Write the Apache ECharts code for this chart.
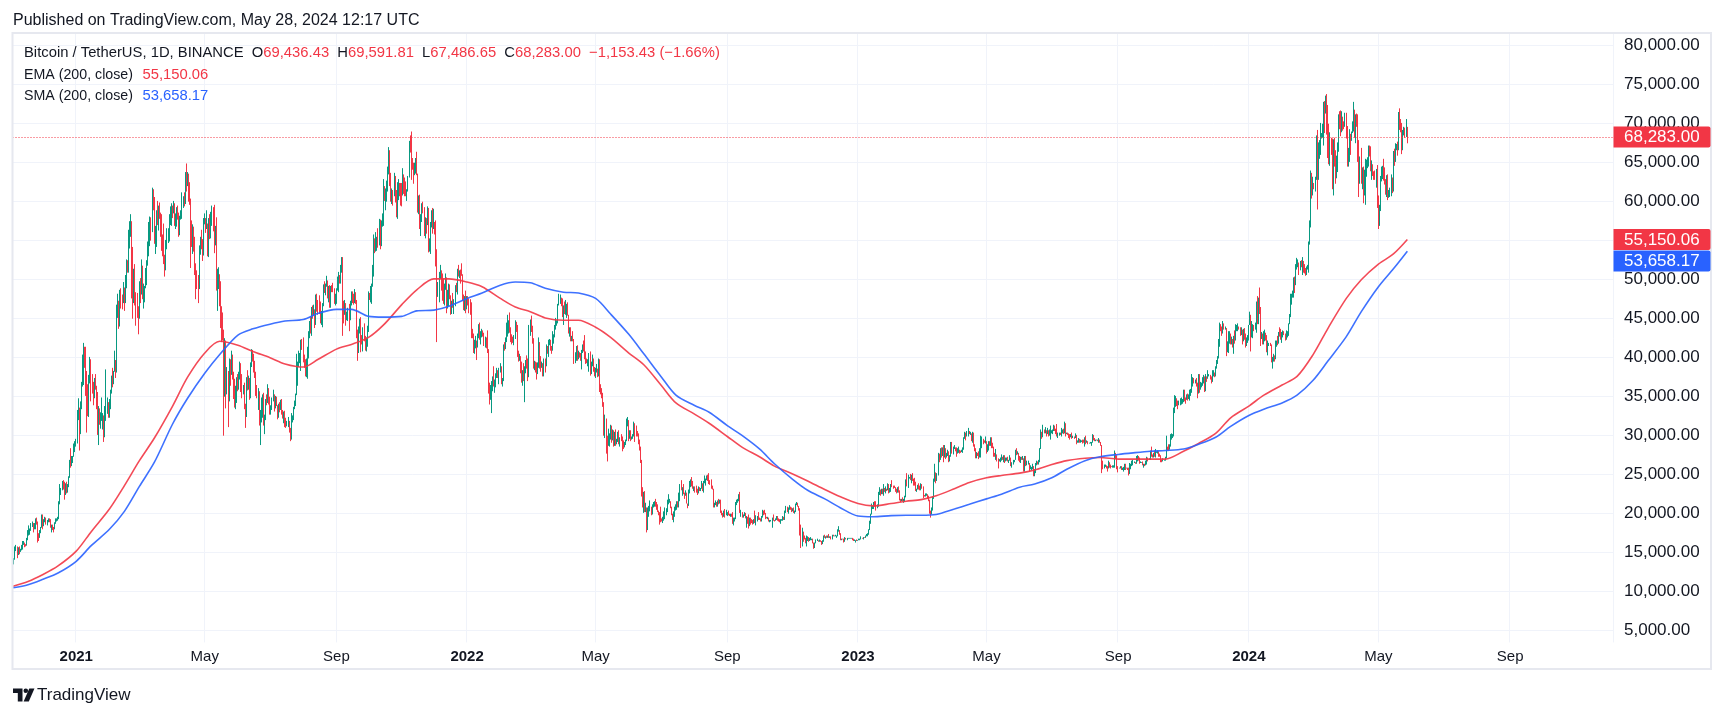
<!DOCTYPE html>
<html>
<head>
<meta charset="utf-8">
<script src="https://cdn.jsdelivr.net/npm/echarts@6/dist/echarts.min.js"></script>
<style>html,body{margin:0;padding:0;background:#fff;}#c{width:1713px;height:717px;}</style>
</head>
<body>
<div id="c"></div>
<script>
// ---------- DATA (prices in thousands of USDT), daily from 2020-11-03 to 2024-05-28 ----------
const startDate = '2020-11-03';
const axisDays = 1495;            // time scale runs on past the last candle
const prevCloseK = 13.55;         // close of 2020-11-02 (open of the first candle)
const closeK = [
/*2020-11*/14.0,14.2,15.6,15.6,14.8,15.5,15.3,15.3,15.7,16.3,16.3,16.1,16.0,16.7,17.7,17.8,17.8,18.7,18.7,18.4,18.4,19.2,18.7,17.2,17.1,17.7,18.2,19.7,
/*2020-12*/18.8,19.2,19.4,18.7,19.2,19.4,19.2,18.3,18.6,18.3,18.0,18.8,19.2,19.3,19.4,21.3,22.8,23.1,23.9,23.5,22.7,23.8,23.2,23.7,24.7,26.5,26.3,27.0,27.4,28.9,28.9,
/*2021-01*/29.4,32.2,33.0,32.0,34.0,36.8,39.4,40.6,40.2,38.2,35.5,34.0,37.4,39.2,36.8,36.0,35.8,36.6,36.0,35.5,30.8,33.0,32.1,32.3,32.3,32.5,30.4,33.5,34.3,34.3,33.1,
/*2021-02*/33.5,35.5,37.6,36.9,38.3,39.3,38.9,46.4,46.5,44.9,47.9,47.4,47.2,48.6,47.9,49.1,52.1,51.6,55.9,55.9,57.4,54.1,48.9,49.7,47.0,46.3,46.2,45.2,
/*2021-03*/49.6,48.4,50.5,48.4,48.8,48.9,51.2,52.4,54.9,55.9,57.8,57.2,61.2,59.0,55.6,56.9,58.9,57.6,58.3,58.1,57.4,54.5,54.3,52.3,51.3,55.0,55.8,55.8,57.6,58.8,58.8,
/*2021-04*/58.7,59.0,57.1,58.2,59.1,58.0,56.0,58.1,58.1,59.8,59.9,59.8,63.6,62.9,63.2,61.4,60.0,56.2,55.7,56.5,53.8,51.7,51.2,50.1,49.1,54.0,55.0,54.9,53.6,57.7,
/*2021-05*/57.8,56.6,57.2,53.2,57.5,56.4,57.4,58.9,58.3,55.8,56.7,49.2,49.7,49.9,46.8,46.4,43.6,42.9,37.0,40.8,37.3,37.5,34.7,38.8,38.3,39.2,38.4,35.7,34.6,35.7,37.3,
/*2021-06*/36.7,37.6,39.2,36.9,35.5,35.8,33.6,33.4,37.4,36.7,37.3,35.5,39.0,40.5,40.1,38.3,38.1,35.8,35.5,35.6,31.6,32.5,33.7,34.6,31.6,32.2,34.7,34.5,35.9,35.0,
/*2021-07*/33.5,33.8,34.7,35.3,33.7,34.2,33.9,32.9,33.8,33.5,34.3,33.1,32.7,32.8,31.9,31.4,31.5,31.8,30.8,29.8,32.1,32.3,33.6,34.3,35.4,37.3,39.5,40.0,40.0,42.2,41.5,
/*2021-08*/39.9,39.2,38.2,39.7,40.9,42.8,44.6,43.8,46.3,45.6,45.6,44.4,47.8,47.1,47.0,45.9,44.7,44.7,46.8,49.3,48.9,49.3,49.5,47.7,48.9,46.8,49.1,48.9,48.8,46.9,47.1,
/*2021-09*/48.8,49.3,50.0,49.9,51.8,52.7,46.9,46.1,46.4,44.8,45.2,46.1,44.9,47.1,48.1,47.8,47.3,48.3,47.3,43.0,40.7,43.6,44.9,42.8,42.7,43.2,42.2,41.0,41.5,43.8,
/*2021-10*/48.1,47.6,48.2,49.2,51.5,55.3,53.8,53.9,55.0,54.7,57.5,56.0,57.4,57.4,61.7,60.9,61.5,62.0,64.3,66.0,62.2,60.7,61.3,60.9,63.1,60.3,58.5,60.6,62.3,61.9,61.3,
/*2021-11*/61.0,63.2,62.9,61.4,61.0,61.5,63.3,67.6,66.9,64.9,64.8,64.2,64.4,65.5,63.6,60.1,60.4,56.9,58.1,59.7,58.7,56.3,57.6,57.2,58.9,53.7,54.8,57.3,57.8,57.0,
/*2021-12*/57.2,56.5,53.6,49.4,49.4,50.6,50.6,50.5,47.7,47.2,49.4,50.1,46.7,48.4,48.9,47.6,46.2,46.9,46.7,46.9,49.0,48.6,50.8,50.4,50.8,50.7,50.6,47.5,46.5,47.1,46.2,
/*2022-01*/47.7,47.3,46.4,45.8,43.4,43.1,41.5,41.7,41.9,41.8,42.7,43.9,42.6,43.1,43.2,43.1,42.2,42.4,41.7,40.7,36.4,35.1,36.3,36.7,36.9,36.8,37.2,37.7,38.2,37.9,38.5,
/*2022-02*/38.7,36.9,37.3,41.6,41.4,42.4,43.8,44.0,44.4,43.5,42.4,42.2,42.1,42.6,44.6,43.9,40.5,40.0,40.1,38.4,37.0,38.3,37.3,38.3,39.2,39.1,37.7,43.2,
/*2022-03*/44.4,44.0,42.5,39.1,39.4,38.4,38.0,38.7,41.9,39.4,38.7,38.8,37.8,39.7,39.3,41.1,40.9,41.8,42.2,41.3,41.0,42.4,42.9,44.0,44.3,44.5,46.8,47.1,47.4,47.1,45.5,
/*2022-04*/46.3,45.8,46.4,46.6,45.5,43.2,43.4,42.3,42.8,42.2,39.5,40.1,41.1,39.9,40.5,40.4,39.7,40.8,41.5,41.4,40.5,39.7,39.5,39.5,40.4,38.1,39.2,39.7,38.6,37.6,
/*2022-05*/38.5,38.5,37.7,39.7,36.5,36.0,35.5,34.0,30.1,31.0,29.1,28.9,29.3,30.1,31.3,29.9,30.4,28.7,30.3,29.2,29.4,30.3,29.1,29.6,29.5,29.2,28.6,29.0,29.4,31.7,31.8,
/*2022-06*/29.8,30.4,29.7,29.8,29.9,31.4,31.1,30.2,30.1,29.1,28.4,26.6,22.5,22.1,22.6,20.4,20.5,19.0,20.6,20.6,20.7,20.0,21.1,21.2,21.5,21.0,20.7,20.3,20.1,19.9,
/*2022-07*/19.3,19.2,19.3,20.2,20.2,20.5,21.6,21.6,21.6,20.8,19.9,19.3,20.2,20.6,20.8,21.2,20.8,22.4,23.4,23.2,23.2,22.7,22.5,22.6,21.3,21.2,22.9,23.8,23.8,23.6,23.3,
/*2022-08*/23.3,23.0,22.8,22.6,23.3,23.0,23.2,23.8,23.2,23.9,24.0,24.4,24.4,24.3,24.1,23.9,23.3,23.2,20.8,21.1,21.5,21.4,21.5,21.4,21.6,20.3,20.0,19.6,20.3,19.8,20.0,
/*2022-09*/20.1,20.0,19.8,20.0,19.8,18.8,19.3,19.3,21.4,21.6,21.8,22.4,20.2,20.2,19.7,19.8,20.1,19.4,19.5,18.9,18.5,19.4,19.3,18.9,18.8,19.2,19.1,19.4,19.6,19.4,
/*2022-10*/19.3,19.0,19.6,20.3,20.2,20.0,19.5,19.4,19.4,19.1,19.1,19.2,19.4,19.2,19.1,19.3,19.6,19.3,19.1,19.0,19.2,19.2,19.6,19.3,20.1,20.8,20.3,20.6,20.8,20.6,20.5,
/*2022-11*/20.5,20.2,20.2,21.1,21.3,20.9,20.6,18.5,15.9,17.6,17.1,16.8,16.3,16.6,16.9,16.7,16.7,16.7,16.7,16.3,15.8,16.2,16.6,16.6,16.5,16.5,16.4,16.2,16.4,17.2,
/*2022-12*/17.0,17.1,16.9,17.1,17.0,17.1,16.8,17.2,17.1,17.1,17.1,17.2,17.8,17.8,17.4,16.6,16.8,16.7,16.4,16.9,16.8,16.8,16.8,16.8,16.8,16.9,16.7,16.5,16.6,16.6,16.5,
/*2023-01*/16.6,16.7,16.7,16.9,16.8,17.0,16.9,17.1,17.2,17.4,17.9,18.8,19.9,20.9,20.9,21.2,21.1,20.7,21.1,22.7,22.8,22.7,22.9,22.6,23.1,23.0,23.1,23.0,23.7,22.8,23.1,
/*2023-02*/23.7,23.5,23.4,23.3,22.9,22.8,23.2,22.9,21.8,21.6,21.9,21.8,21.8,22.2,24.3,23.5,24.6,24.6,24.3,24.8,24.4,24.2,23.9,23.2,23.2,23.6,23.5,23.1,
/*2023-03*/23.6,23.5,22.4,22.3,22.4,22.4,22.2,21.7,20.4,20.2,20.6,22.1,24.2,24.7,24.3,25.0,27.4,26.9,28.0,27.8,28.2,27.3,28.3,27.5,27.5,28.0,27.1,27.3,28.4,28.0,28.5,
/*2023-04*/28.5,28.2,27.8,28.2,28.2,28.0,27.9,27.9,28.3,29.7,30.2,29.9,30.4,30.5,30.3,30.3,29.4,30.4,28.8,28.2,27.3,27.8,27.6,27.5,28.3,28.4,29.5,29.3,29.2,29.2,
/*2023-05*/28.1,28.7,29.0,28.8,29.5,28.9,28.5,27.7,27.6,27.6,27.0,26.8,26.8,26.9,27.2,27.0,27.4,26.8,26.9,27.1,26.7,26.8,27.2,26.3,26.5,26.7,26.9,28.1,27.7,27.7,27.2,
/*2023-06*/26.8,27.2,27.1,27.1,25.7,27.2,26.3,26.5,26.5,25.9,25.9,25.9,25.9,25.1,25.6,26.3,26.5,26.3,26.8,28.3,30.0,29.9,30.7,30.5,30.5,30.3,30.7,30.1,30.4,30.5,
/*2023-07*/30.6,30.6,31.2,30.8,30.5,29.9,30.3,30.3,30.2,30.4,30.6,30.4,31.5,30.3,30.3,30.2,30.1,29.9,29.9,29.8,29.9,29.8,30.1,29.2,29.2,29.4,29.2,29.3,29.4,29.3,29.2,
/*2023-08*/29.7,29.2,29.2,29.1,29.1,29.1,29.2,29.8,29.6,29.4,29.4,29.4,29.3,29.4,29.2,28.7,26.6,26.1,26.2,26.2,26.1,25.9,26.4,26.2,26.1,26.0,26.1,26.1,27.7,27.3,25.9,
/*2023-09*/25.8,25.9,26.0,25.8,25.8,25.8,26.2,25.9,25.9,25.8,25.1,25.8,26.2,26.5,26.6,26.6,26.5,26.8,27.2,27.1,26.6,26.6,26.6,26.3,26.3,26.2,26.4,27.0,26.9,27.0,
/*2023-10*/28.0,27.5,27.4,27.8,27.4,27.9,27.9,27.9,27.6,27.4,26.9,26.8,26.9,26.9,27.2,28.5,28.4,28.3,28.7,29.7,29.9,30.0,33.1,33.9,34.5,34.2,33.9,34.1,34.5,34.5,34.6,
/*2023-11*/35.4,34.9,34.7,35.1,35.0,35.0,35.4,35.6,36.7,37.3,37.1,37.1,36.5,35.5,37.9,36.2,36.6,36.6,37.4,37.5,35.8,37.4,37.3,37.7,37.8,37.5,37.2,37.8,37.9,37.7,
/*2023-12*/38.7,39.5,40.0,42.0,44.1,43.8,43.3,44.2,43.7,43.8,41.2,41.5,42.9,43.0,41.9,42.3,41.4,42.7,42.3,43.7,43.9,44.0,43.7,43.0,43.6,42.5,43.4,42.6,42.1,42.1,42.3,
/*2024-01*/44.2,45.0,42.8,44.2,44.2,43.9,43.9,46.9,46.1,46.6,46.3,42.8,42.8,41.7,42.5,43.1,42.7,41.3,41.6,41.7,41.6,39.5,39.8,40.0,39.9,41.8,42.1,42.0,43.3,42.9,42.6,
/*2024-02*/43.1,43.2,43.0,42.6,42.7,43.1,44.3,45.3,47.1,47.8,48.3,50.0,49.7,51.8,52.0,52.1,51.6,52.1,51.8,52.3,51.8,51.3,50.7,51.6,51.7,54.5,57.1,62.5,61.1,
/*2024-03*/62.4,62.0,63.1,68.2,63.7,66.1,66.9,68.3,68.5,69.0,72.1,71.5,73.1,71.4,69.5,65.3,68.4,67.6,62.0,67.8,65.5,63.8,64.0,67.2,70.0,69.9,69.5,70.8,69.9,69.6,71.3,
/*2024-04*/69.7,65.5,65.9,68.5,67.8,68.9,69.4,71.6,69.1,70.6,70.0,67.1,63.9,65.7,63.4,63.8,61.3,63.5,63.8,64.9,64.9,66.8,66.4,64.3,64.5,63.8,63.4,63.1,63.8,60.6,
/*2024-05*/58.3,59.1,62.9,63.9,64.0,63.2,62.3,61.2,63.1,60.8,60.8,61.5,62.9,61.6,66.2,65.2,67.0,67.0,66.9,71.4,70.1,69.2,67.9,68.5,69.3,68.5,69.43643,68.283
];
const highK = [
/*2020-11*/14.1,14.3,15.8,16.0,15.8,15.7,15.8,15.5,16.0,16.5,16.5,16.3,16.1,16.9,17.9,18.5,18.1,18.8,19.0,18.8,18.8,19.4,19.5,19.0,17.5,17.9,18.3,19.9,
/*2020-12*/19.9,19.3,19.6,19.5,19.2,19.4,19.4,19.3,18.6,18.6,18.3,18.9,19.4,19.4,19.6,21.6,23.8,23.3,24.2,24.3,24.1,23.9,24.1,23.8,24.8,26.9,28.4,27.4,27.4,29.0,29.3,
/*2021-01*/29.6,33.3,34.8,33.6,34.4,36.9,40.4,41.9,41.4,41.4,38.3,36.6,37.8,40.1,39.8,37.9,36.9,37.4,37.9,36.4,35.6,33.8,33.5,33.0,34.9,32.9,32.6,33.8,38.5,34.9,34.3,
/*2021-02*/34.7,35.9,37.7,38.7,38.3,40.9,39.7,46.8,48.2,47.3,48.7,48.9,48.1,49.7,49.0,50.6,52.6,52.5,56.4,57.5,58.4,57.5,54.2,51.4,52.0,48.4,48.3,46.6,
/*2021-03*/49.8,50.2,52.6,51.8,49.5,49.2,51.5,52.5,54.9,57.4,58.1,58.0,61.8,61.6,60.6,56.9,58.9,60.1,59.5,59.9,58.6,58.4,55.8,57.2,53.2,55.1,56.6,56.6,58.4,59.4,59.8,
/*2021-04*/59.5,60.1,59.8,58.5,59.3,59.5,58.6,58.2,58.9,61.2,60.7,61.2,63.8,64.9,63.8,63.6,62.5,60.4,57.6,57.1,56.8,55.5,52.1,51.2,50.6,54.4,55.5,56.4,55.2,57.9,
/*2021-05*/58.5,57.9,58.9,57.2,57.9,58.4,58.7,59.5,59.3,59.6,56.9,58.0,51.4,51.6,50.7,49.8,46.6,45.8,43.6,42.5,42.2,38.8,38.3,39.9,39.8,40.9,40.4,38.2,37.3,36.4,37.5,
/*2021-06*/37.9,38.2,39.5,39.3,37.9,36.5,36.8,34.1,37.5,38.4,37.7,37.4,39.4,41.1,41.0,40.5,39.6,38.2,36.5,36.1,35.7,33.3,34.9,35.3,35.5,32.7,34.7,35.3,36.6,36.1,
/*2021-07*/35.0,33.9,34.9,35.9,35.3,35.1,35.0,33.9,34.1,34.3,34.6,34.7,33.3,33.1,33.2,32.3,31.9,32.4,31.9,31.0,32.9,32.6,33.7,34.5,35.4,40.5,39.5,40.9,40.6,42.3,42.4,
/*2021-08*/42.6,40.4,39.8,39.9,41.4,43.4,44.7,45.3,46.5,46.7,46.8,46.2,48.1,48.2,47.4,48.0,47.2,46.0,47.0,49.4,49.8,49.5,50.5,49.9,49.2,49.3,49.2,49.3,49.6,48.9,48.2,
/*2021-09*/48.9,50.4,51.0,50.6,51.9,52.9,52.9,47.3,47.4,47.0,45.9,46.4,46.9,47.3,48.5,48.5,48.2,48.8,48.4,47.4,43.6,44.0,45.0,45.2,42.9,43.9,44.4,42.8,42.6,44.1,
/*2021-10*/48.5,48.3,49.2,49.5,51.9,55.8,55.3,56.1,55.5,56.6,57.8,57.7,57.6,58.5,62.9,62.0,61.7,62.7,64.5,67.0,66.6,63.7,61.7,61.5,63.7,63.3,61.5,62.5,62.9,62.4,62.4,
/*2021-11*/62.4,64.3,63.5,63.1,62.6,61.6,63.3,67.8,68.5,69.0,65.6,65.0,65.0,65.6,66.4,63.6,60.8,60.9,58.4,59.8,60.0,59.3,58.0,57.9,59.4,59.2,55.3,57.4,58.9,59.2,
/*2021-12*/59.1,57.4,57.6,53.9,49.7,51.0,51.9,51.2,50.8,50.1,49.5,50.8,50.3,48.7,49.5,49.4,48.0,47.3,48.3,47.5,49.3,49.6,51.4,51.9,51.2,51.3,52.1,50.7,48.1,47.9,48.6,
/*2022-01*/47.9,47.9,47.6,47.5,47.1,43.7,43.1,42.3,42.8,42.2,43.1,44.3,44.5,43.4,43.7,43.5,43.2,42.7,42.6,43.5,41.1,36.8,36.5,37.0,37.6,38.9,37.2,38.0,38.7,38.4,38.7,
/*2022-02*/39.3,38.9,37.4,41.7,42.0,42.6,44.5,45.5,44.8,45.8,43.9,43.0,42.7,42.9,44.8,44.6,44.2,40.9,40.5,40.2,39.5,38.4,39.3,38.9,39.7,40.3,39.9,44.2,
/*2022-03*/44.9,45.4,44.1,42.5,39.6,39.5,39.4,39.4,42.6,42.0,40.2,39.5,39.3,39.9,39.9,41.7,41.5,42.3,42.4,42.3,41.5,43.4,43.0,44.2,45.1,44.8,46.9,48.2,48.1,47.7,47.6,
/*2022-04*/46.7,47.2,47.4,46.9,47.1,45.5,43.9,43.9,42.8,43.4,42.4,40.7,41.5,41.6,40.9,40.7,40.6,41.0,41.7,42.2,42.9,40.8,39.9,39.8,40.6,40.8,39.5,40.4,39.9,38.8,
/*2022-05*/38.7,39.2,38.6,39.9,39.8,36.6,36.1,35.5,34.3,32.7,32.2,30.0,30.9,30.3,31.4,31.3,30.8,30.7,30.5,30.8,29.6,30.5,30.7,29.8,30.2,29.9,29.4,29.2,29.5,32.2,32.4,
/*2022-06*/32.0,30.7,30.7,29.9,30.2,31.8,31.6,31.3,30.6,30.3,29.5,28.6,26.9,23.4,22.8,22.9,21.4,20.8,20.8,21.0,21.7,20.9,21.2,21.5,21.6,21.9,21.5,21.2,20.4,20.2,
/*2022-07*/20.9,19.4,19.6,20.3,20.8,20.7,21.8,22.5,21.9,21.6,20.9,20.0,20.3,20.9,21.2,21.6,21.6,22.7,23.8,24.3,23.4,23.8,22.7,23.0,22.7,21.3,23.1,24.2,24.4,24.7,24.2,
/*2022-08*/23.5,23.5,23.6,23.2,23.5,23.4,23.3,24.2,23.9,24.2,24.9,24.5,24.9,25.0,25.2,24.3,24.4,23.6,23.2,21.4,21.7,21.5,21.7,21.9,21.8,21.8,20.4,20.1,20.4,20.6,20.5,
/*2022-09*/20.2,20.4,20.0,20.0,20.0,20.2,19.5,19.5,21.5,21.8,21.9,22.5,22.8,20.5,20.2,19.9,20.2,20.1,19.7,19.6,19.9,19.5,19.5,19.3,19.2,19.3,20.4,19.8,19.7,20.2,
/*2022-10*/19.5,19.4,19.7,20.5,20.4,20.5,20.1,19.6,19.6,19.5,19.2,19.2,19.5,19.9,19.2,19.4,19.7,19.7,19.4,19.3,19.3,19.3,19.7,19.6,20.4,21.0,20.9,20.8,21.1,20.9,20.8,
/*2022-11*/20.7,20.8,20.4,21.3,21.5,21.4,21.0,20.7,18.6,18.2,17.7,17.2,16.9,17.2,17.1,17.0,16.9,17.0,16.8,16.8,16.3,16.3,16.7,16.8,16.6,16.7,16.6,16.5,16.6,17.2,
/*2022-12*/17.3,17.1,17.2,17.2,17.4,17.1,17.1,17.3,17.3,17.2,17.3,17.2,18.0,18.4,17.9,17.5,16.8,16.8,16.8,17.0,16.9,16.9,16.9,16.9,16.9,16.9,16.9,16.8,16.7,16.6,16.7,
/*2023-01*/16.6,16.8,16.8,17.1,16.9,17.0,17.0,17.2,17.4,17.5,18.0,19.1,20.0,21.3,21.0,21.5,21.6,21.6,21.2,22.8,23.4,23.1,23.2,23.2,23.8,23.3,23.5,23.2,23.9,23.8,23.3,
/*2023-02*/23.8,24.3,23.6,23.6,23.4,23.2,23.4,23.5,23.0,21.9,21.9,22.1,21.9,22.3,24.4,25.2,25.0,24.7,25.1,25.0,25.2,24.5,24.6,24.1,23.2,23.7,23.9,23.6,
/*2023-03*/23.9,23.8,23.5,22.4,22.6,22.6,22.5,22.3,21.8,20.4,20.8,22.2,24.5,26.4,25.3,25.2,27.8,27.7,28.4,28.5,28.5,28.8,28.8,28.4,27.8,28.2,28.0,27.5,29.2,29.2,28.6,
/*2023-04*/28.8,28.5,28.5,28.4,28.6,28.2,28.1,28.2,28.5,29.8,30.5,30.4,30.6,31.0,30.6,30.5,30.3,30.5,30.4,28.9,28.4,27.9,27.8,28.0,28.4,30.0,29.9,29.6,29.4,29.9,
/*2023-05*/29.3,28.9,29.3,29.3,29.8,29.8,29.1,28.6,27.8,28.3,27.6,27.1,27.0,27.2,27.6,27.3,27.5,27.5,27.2,27.2,27.3,26.9,27.5,27.2,26.6,26.9,26.9,28.2,28.4,28.0,27.8,
/*2023-06*/27.4,27.3,27.3,27.4,27.1,27.4,27.4,26.8,26.8,26.5,26.2,26.0,26.4,26.1,25.7,26.5,26.8,26.7,26.9,28.4,30.8,30.5,31.4,30.8,31.1,30.7,31.0,30.7,30.8,31.3,
/*2023-07*/30.7,30.8,31.4,31.3,30.9,31.5,30.4,30.4,30.4,31.0,30.8,30.9,31.8,31.6,30.4,30.4,30.3,30.2,30.2,30.4,30.0,29.9,30.3,30.1,29.4,29.7,29.6,29.5,29.4,29.5,29.5,
/*2023-08*/29.8,30.0,29.4,29.3,29.1,29.2,29.2,30.2,30.1,29.7,29.5,29.5,29.5,29.7,29.5,29.2,28.8,26.8,26.3,26.3,26.2,26.1,26.8,26.6,26.3,26.1,26.2,26.2,28.1,27.8,27.5,
/*2023-09*/26.1,25.9,26.1,26.1,25.9,26.0,26.4,26.4,25.9,25.9,25.9,26.5,26.4,26.8,26.9,26.7,26.6,27.4,27.5,27.4,27.2,26.7,26.6,26.7,26.4,26.4,26.8,27.3,27.2,27.1,
/*2023-10*/28.1,28.6,27.6,27.8,28.1,28.3,28.0,28.1,28.0,27.7,27.5,26.9,27.1,26.9,27.3,30.0,28.6,28.9,28.9,30.2,30.3,30.2,33.6,35.2,35.1,34.8,34.5,34.5,34.8,34.9,34.7,
/*2023-11*/35.9,35.9,34.9,35.3,35.4,35.3,35.9,36.0,37.9,37.5,37.4,37.2,37.4,36.8,37.9,37.9,36.9,36.8,37.5,37.8,37.6,37.9,37.6,38.4,37.9,37.8,37.6,38.4,38.4,38.1,
/*2023-12*/38.9,39.7,40.2,42.4,44.5,44.3,44.0,44.7,44.4,44.0,43.8,42.1,43.4,43.4,43.1,42.7,42.4,42.8,43.5,44.3,44.2,44.4,44.0,43.9,43.9,43.6,43.7,43.8,43.1,42.6,42.9,
/*2024-01*/44.2,45.9,45.5,44.7,44.3,44.2,44.5,47.2,47.9,47.7,49.0,46.5,43.3,43.1,43.4,43.6,43.2,42.9,42.2,41.9,41.9,41.7,40.1,40.5,40.3,42.2,42.2,42.8,43.3,43.9,43.7,
/*2024-02*/43.3,43.5,43.4,43.1,43.5,43.4,44.4,45.6,48.2,48.2,48.6,50.3,50.4,52.0,52.8,52.6,52.2,52.4,52.5,52.9,52.4,52.0,51.5,51.7,51.9,54.9,57.6,64.0,63.7,
/*2024-03*/63.2,62.4,63.2,68.5,69.2,67.6,67.9,70.1,68.8,70.0,72.8,72.9,73.6,73.8,72.4,70.0,68.9,68.2,68.1,68.0,68.2,66.6,65.9,67.6,71.2,71.6,71.7,71.6,70.9,70.3,71.4,
/*2024-04*/71.4,69.7,66.9,69.3,68.7,69.0,70.3,72.8,71.8,71.2,71.3,71.2,67.9,65.8,66.9,64.4,64.5,64.1,65.5,65.4,65.7,67.2,67.2,67.1,65.3,64.8,63.9,64.0,64.2,64.7,
/*2024-05*/60.8,59.6,63.3,64.5,64.6,65.5,64.4,62.9,63.4,63.5,61.5,61.8,63.5,63.1,66.5,66.8,67.5,67.4,67.7,71.5,71.97,70.6,70.1,69.2,69.6,69.5,70.6,69.59181
];
const lowK = [
/*2020-11*/13.3,13.5,14.1,15.2,14.3,14.7,14.8,15.1,15.3,15.4,16.0,15.7,15.8,15.9,16.6,17.2,17.3,17.8,18.3,17.6,18.0,18.0,18.6,16.3,16.5,16.9,17.5,18.2,
/*2020-12*/18.0,18.4,18.9,18.6,18.5,18.9,18.9,18.2,17.6,17.9,17.6,18.0,18.7,19.0,19.1,19.3,21.2,22.4,23.0,23.1,21.8,22.4,22.6,22.7,23.4,24.6,25.9,26.1,26.5,27.3,27.9,
/*2021-01*/28.6,29.0,32.0,28.1,30.2,33.4,36.3,36.5,38.7,35.1,30.4,32.5,32.4,36.7,34.4,35.4,33.9,34.8,35.9,33.4,30.1,28.8,31.4,30.9,31.9,30.8,29.2,29.8,31.9,32.8,32.3,
/*2021-02*/32.3,33.4,35.4,36.2,36.6,38.2,37.4,38.1,45.1,43.7,44.0,46.3,46.2,47.0,46.0,47.0,48.9,50.9,50.9,54.0,55.5,47.6,45.0,47.0,46.7,44.1,45.1,43.0,
/*2021-03*/45.0,47.0,48.1,47.5,46.3,47.1,48.9,49.3,51.8,53.0,54.3,55.0,56.1,58.9,54.6,53.3,54.2,57.0,56.3,57.8,55.5,53.7,53.0,52.0,50.4,51.2,53.9,54.7,54.9,57.0,56.9,
/*2021-04*/57.9,58.5,56.9,56.5,56.8,57.7,55.5,55.7,57.7,57.8,59.2,59.4,59.7,61.3,62.0,60.0,59.6,51.5,54.2,53.3,53.6,50.6,47.5,48.8,47.0,48.8,53.2,53.9,52.4,53.1,
/*2021-05*/57.1,56.0,56.5,53.0,52.9,55.2,55.3,56.9,56.2,53.4,54.4,48.6,46.0,48.8,46.6,43.8,42.0,42.2,30.0,35.0,33.5,35.3,31.1,34.4,36.4,37.8,37.2,34.7,33.6,33.4,34.2,
/*2021-06*/35.7,35.9,37.2,35.6,34.8,35.3,33.4,31.0,32.4,35.8,35.9,34.6,34.8,38.8,39.5,38.1,37.4,35.1,34.8,33.3,31.3,28.8,31.7,32.3,31.3,30.2,32.0,33.9,34.2,34.0,
/*2021-07*/32.7,32.7,33.3,34.4,33.1,33.5,33.8,32.1,32.3,33.0,33.3,32.7,32.2,31.6,31.1,31.0,31.2,31.1,30.4,29.3,29.5,31.7,32.0,33.4,33.8,35.2,36.4,38.8,39.3,38.3,41.0,
/*2021-08*/39.4,38.7,37.6,37.5,37.3,39.9,42.5,43.1,42.8,45.0,45.4,43.8,44.2,45.9,45.5,45.6,44.4,44.2,43.9,46.6,48.3,48.0,49.1,47.6,47.1,46.4,46.4,48.4,48.4,46.9,46.7,
/*2021-09*/46.9,48.6,48.4,49.5,49.5,50.9,42.8,44.4,45.5,44.1,44.8,44.7,43.4,44.8,46.7,47.0,46.8,47.0,46.9,42.5,39.6,40.6,43.1,40.7,41.7,40.8,42.1,40.9,40.8,41.4,
/*2021-10*/43.3,47.4,47.1,46.9,49.1,50.4,53.4,53.6,53.7,54.1,54.4,53.9,54.3,56.8,56.9,60.1,58.9,60.0,61.3,63.5,62.0,60.0,59.7,59.5,60.7,59.9,58.0,57.8,60.2,60.7,59.5,
/*2021-11*/59.4,60.8,61.0,60.7,60.7,60.1,61.3,63.1,66.3,62.8,64.1,62.3,63.4,63.6,63.4,58.6,58.4,56.5,55.6,57.4,58.5,55.6,55.3,55.9,57.0,53.5,53.6,53.3,56.7,55.9,
/*2021-12*/56.5,55.8,51.7,42.0,47.8,47.1,50.1,48.6,47.3,46.9,46.7,48.7,45.7,46.3,46.6,47.5,45.5,45.6,46.4,45.6,46.6,48.4,48.1,50.4,50.2,49.5,50.5,47.3,46.1,46.0,45.7,
/*2022-01*/46.2,46.7,45.7,45.5,42.5,42.5,40.6,40.5,41.2,39.7,41.3,42.5,42.3,41.7,42.6,42.7,41.5,41.3,41.2,40.6,35.4,34.0,34.6,32.9,35.7,36.3,35.5,36.2,37.4,37.4,36.6,
/*2022-02*/38.1,36.6,36.3,37.0,40.9,41.1,42.0,42.7,43.1,43.2,42.0,41.7,41.9,41.6,42.4,43.3,40.1,39.5,39.6,38.0,36.8,36.4,37.0,34.3,38.0,38.6,37.0,37.5,
/*2022-03*/42.8,43.3,41.8,38.6,38.4,38.1,37.2,37.9,38.7,38.6,38.2,38.7,37.6,37.6,38.1,38.9,40.5,40.1,41.6,40.9,40.5,40.9,41.8,42.6,43.6,44.1,44.4,46.7,46.9,46.6,45.2,
/*2022-04*/44.2,45.6,45.5,45.1,45.4,43.1,42.7,42.1,42.1,42.1,39.2,39.3,39.6,39.6,39.8,40.0,39.6,38.5,40.6,40.8,39.8,39.2,39.3,38.9,38.2,37.7,37.9,38.9,38.2,37.6,
/*2022-05*/37.4,38.1,37.5,37.6,35.6,35.3,34.8,33.7,30.0,29.7,27.7,26.7,28.7,28.6,29.5,29.1,29.4,28.6,28.7,28.7,28.9,29.2,28.9,28.6,29.3,28.0,28.3,28.5,28.8,29.3,31.2,
/*2022-06*/29.3,29.6,29.3,29.5,29.6,29.9,29.2,29.9,29.9,28.9,28.1,26.5,22.2,20.8,20.1,20.2,20.2,17.6,17.9,19.6,20.3,19.8,19.9,20.8,20.9,20.9,20.5,20.2,19.8,18.6,
/*2022-07*/18.9,19.0,18.8,19.1,19.3,19.8,20.2,21.2,21.4,20.7,19.8,19.2,18.9,19.6,20.4,20.5,20.8,20.8,21.6,23.0,22.3,22.5,21.9,22.3,21.3,20.7,21.0,22.6,23.4,23.5,23.2,
/*2022-08*/22.9,22.7,22.7,22.4,22.6,22.9,22.9,23.2,22.9,22.7,23.9,23.6,24.3,24.2,23.8,23.7,23.2,23.1,20.8,20.8,21.1,20.9,20.9,21.2,21.3,20.1,19.8,19.5,19.6,19.5,19.8,
/*2022-09*/19.7,19.8,19.7,19.6,19.6,18.7,18.5,19.0,19.3,21.1,21.4,21.6,20.1,19.6,19.5,19.5,19.7,19.4,18.2,18.7,18.1,18.4,18.6,18.8,18.6,18.7,18.8,18.5,19.0,19.2,
/*2022-10*/19.2,19.0,19.0,19.5,19.8,19.9,19.3,19.4,19.3,19.0,18.9,19.0,18.2,19.1,19.0,19.1,19.2,19.1,19.0,18.9,18.7,19.1,19.1,19.2,19.2,20.1,20.2,20.0,20.5,20.5,20.2,
/*2022-11*/20.3,20.1,20.0,20.2,21.1,20.9,20.4,17.2,15.6,15.8,16.4,16.7,16.2,15.8,16.5,16.4,16.5,16.6,16.6,16.2,15.5,15.6,16.2,16.5,16.4,16.4,16.4,16.0,16.1,16.4,
/*2022-12*/16.9,16.8,16.9,16.9,16.9,16.9,16.7,16.7,17.1,17.1,17.1,16.9,17.1,17.7,17.3,16.6,16.6,16.7,16.3,16.4,16.7,16.6,16.8,16.8,16.8,16.8,16.6,16.5,16.5,16.3,16.5,
/*2023-01*/16.5,16.6,16.6,16.7,16.8,16.7,16.9,16.9,17.1,17.1,17.3,17.9,18.7,19.9,20.6,20.6,20.9,20.4,20.7,20.9,22.4,22.3,22.5,22.5,22.3,22.8,22.6,22.9,23.0,22.6,22.7,
/*2023-02*/22.8,23.4,23.2,23.3,22.8,22.6,22.7,22.7,21.7,21.5,21.6,21.6,21.4,21.5,22.1,23.5,23.3,24.5,24.3,23.9,24.2,23.6,23.6,22.9,22.8,23.1,23.1,23.0,
/*2023-03*/23.0,23.2,22.0,22.2,22.2,22.3,21.9,21.6,20.0,19.5,19.9,20.4,21.9,24.1,23.9,24.2,24.9,26.6,26.9,27.2,27.4,26.6,27.2,27.0,27.2,27.4,26.6,26.7,27.3,27.7,27.6,
/*2023-04*/28.3,28.0,27.3,27.7,27.8,27.7,27.8,27.9,27.8,28.2,29.6,29.4,29.9,29.9,30.2,30.1,29.3,29.1,28.6,28.0,27.1,27.1,27.4,27.0,27.2,27.2,28.4,28.9,29.1,29.0,
/*2023-05*/27.7,27.9,28.1,28.7,28.7,28.4,28.4,27.3,27.3,26.9,26.7,25.8,26.7,26.6,26.8,26.9,26.6,26.5,26.7,26.8,26.7,26.5,26.8,26.1,25.9,26.3,26.6,26.9,27.5,27.6,26.8,
/*2023-06*/26.6,26.5,26.9,26.9,25.4,25.4,26.1,26.2,26.3,25.4,25.7,25.6,25.7,24.8,24.8,25.2,26.2,26.3,26.3,26.6,28.3,29.6,29.8,30.3,30.3,29.9,30.2,29.9,30.0,29.5,
/*2023-07*/30.3,30.2,30.6,30.6,30.2,29.9,29.7,30.0,30.1,29.9,30.3,30.2,30.3,29.9,30.2,30.1,29.7,29.5,29.8,29.6,29.7,29.6,29.7,28.9,29.1,29.1,29.1,29.1,29.2,29.0,29.1,
/*2023-08*/28.6,28.9,29.1,28.9,29.0,29.0,28.7,29.1,29.4,29.3,29.3,29.4,29.3,29.1,29.1,28.7,25.2,25.7,25.8,26.0,25.8,25.4,25.8,25.9,25.8,26.0,25.9,25.9,25.9,27.0,25.7,
/*2023-09*/25.3,25.8,25.8,25.6,25.6,25.4,25.6,25.6,25.8,25.6,24.9,25.1,25.7,26.1,26.2,26.5,26.4,26.4,26.7,26.8,26.4,26.5,26.5,26.2,25.9,26.1,26.2,26.3,26.7,26.9,
/*2023-10*/26.9,27.3,27.2,27.2,27.3,27.2,27.8,27.7,27.3,27.3,26.6,26.6,26.7,26.8,26.8,27.1,28.1,28.1,28.2,28.6,29.5,29.7,29.9,32.9,33.7,33.8,33.4,33.9,33.9,34.0,34.1,
/*2023-11*/34.3,34.4,34.1,34.6,34.5,34.7,34.5,35.1,35.5,36.3,36.7,36.7,36.3,34.8,35.4,35.5,35.9,36.2,36.4,36.7,35.6,35.7,36.9,37.3,37.6,37.2,36.7,36.9,37.6,37.5,
/*2023-12*/37.6,38.6,39.2,39.9,41.4,43.4,42.8,43.1,43.6,43.6,40.2,40.7,40.6,41.8,41.7,41.7,41.3,40.5,41.8,42.2,43.4,43.4,43.6,42.8,42.9,41.7,42.1,42.3,41.3,41.5,41.9,
/*2024-01*/42.2,44.2,40.8,42.6,42.5,43.4,43.6,43.2,44.3,44.3,45.6,41.5,42.4,41.7,41.7,42.1,42.2,40.7,40.3,41.5,41.5,39.4,38.6,39.5,39.5,39.8,41.4,41.6,41.8,42.7,42.3,
/*2024-02*/41.9,42.6,42.9,42.2,42.3,42.6,42.8,44.3,45.2,46.8,47.7,47.7,48.3,49.3,51.3,51.6,50.6,51.2,51.6,50.6,50.9,50.8,50.5,50.6,51.3,50.9,54.5,56.7,60.4,
/*2024-03*/60.8,61.6,61.3,62.8,59.0,62.8,65.5,66.0,68.1,68.2,67.2,68.8,71.3,68.6,65.6,64.8,64.6,66.0,61.6,60.8,64.5,62.3,63.0,63.8,66.4,69.3,68.4,68.9,69.1,69.3,69.6,
/*2024-04*/68.1,64.5,64.5,65.1,66.0,67.8,68.8,69.0,68.2,67.5,69.6,65.1,60.6,62.3,62.3,61.6,59.8,60.8,59.6,63.2,64.3,64.5,65.8,63.9,62.8,63.3,62.8,62.8,61.8,59.2,
/*2024-05*/56.5,56.9,58.8,62.6,62.9,62.7,62.2,60.9,60.6,60.2,60.5,60.6,60.7,61.1,61.3,64.6,65.1,66.6,65.9,66.6,69.2,68.9,66.1,66.6,68.5,68.2,68.3,67.48665
];
// EMA(200) and SMA(200) at these dates
const maDates = ['2020-11-03','2020-11-17','2020-12-01','2020-12-15',
'2021-01-01','2021-01-15','2021-02-01','2021-02-15','2021-03-01','2021-03-15','2021-04-01','2021-04-15','2021-05-01','2021-05-15','2021-06-01','2021-06-15','2021-07-01','2021-07-15','2021-08-01','2021-08-15','2021-09-01','2021-09-15','2021-10-01','2021-10-15','2021-11-01','2021-11-15','2021-12-01','2021-12-15',
'2022-01-01','2022-01-15','2022-02-01','2022-02-15','2022-03-01','2022-03-15','2022-04-01','2022-04-15','2022-05-01','2022-05-15','2022-06-01','2022-06-15','2022-07-01','2022-07-15','2022-08-01','2022-08-15','2022-09-01','2022-09-15','2022-10-01','2022-10-15','2022-11-01','2022-11-15','2022-12-01','2022-12-15',
'2023-01-01','2023-01-15','2023-02-01','2023-02-15','2023-03-01','2023-03-15','2023-04-01','2023-04-15','2023-05-01','2023-05-15','2023-06-01','2023-06-15','2023-07-01','2023-07-15','2023-08-01','2023-08-15','2023-09-01','2023-09-15','2023-10-01','2023-10-15','2023-11-01','2023-11-15','2023-12-01','2023-12-15',
'2024-01-01','2024-01-15','2024-02-01','2024-02-15','2024-03-01','2024-03-15','2024-04-01','2024-04-15','2024-05-01','2024-05-15','2024-05-28'];
const emaK = [10.7,11.3,12.2,13.3,
15.2,17.7,20.6,23.6,26.8,29.7,33.8,37.5,40.6,42.1,41.6,40.8,40.0,39.2,38.8,39.8,41.1,41.7,42.6,44.2,46.8,48.7,50.1,50.1,
49.7,49.1,47.6,46.5,45.9,45.1,44.8,44.8,43.9,42.6,40.6,39.1,36.5,34.2,32.8,31.6,29.9,28.5,27.3,26.1,25.1,24.2,23.1,22.2,
21.3,21.0,21.3,21.6,21.8,22.3,23.2,24.0,24.6,24.9,25.2,25.6,26.3,26.8,27.1,27.2,27.0,27.0,27.0,27.0,28.0,29.0,30.3,32.3,
33.8,35.2,36.5,37.6,40.4,43.8,47.6,50.0,52.0,53.3,55.15006];
const smaK = [10.5,10.9,11.6,12.4,
13.9,15.9,18.0,20.3,23.5,26.6,31.5,34.8,38.0,40.4,42.9,43.7,44.3,44.7,44.9,45.7,46.2,46.2,45.3,45.2,45.3,46.0,46.1,46.6,
47.6,48.3,49.3,49.7,49.6,48.9,48.4,48.3,47.6,45.6,43.0,40.5,37.6,35.2,33.9,33.0,31.3,30.0,28.3,26.4,24.4,23.0,21.9,20.8,
19.7,19.6,19.75,19.8,19.8,19.9,20.6,21.2,21.9,22.5,23.4,23.8,24.6,25.7,26.8,27.3,27.6,27.8,28.0,28.1,28.3,28.9,29.8,31.2,
32.6,33.4,34.2,35.2,37.1,39.6,42.7,45.9,49.1,51.4,53.65817];
const priceTicks = [5000,10000,15000,20000,25000,30000,35000,40000,45000,50000,55000,60000,65000,70000,75000,80000];
const timeLabels = {'05':'May','09':'Sep'};   // January shows the year
const headerText = 'Published on TradingView.com, May 28, 2024 12:17 UTC';
const symbolText = 'Bitcoin / TetherUS, 1D, BINANCE';
const emaName = 'EMA (200, close)';
const smaName = 'SMA (200, close)';

// ---------- BUILD ----------
const UP = '#089981', DOWN = '#f23645', BLUE = '#2962ff', TXT = '#131722', GRID = '#f0f3fa';
const FONT = '"Liberation Sans", Arial, sans-serif';
const K = 1000;
const DAY = 86400000;
const t0 = Date.parse(startDate + 'T00:00:00Z');
const categories = [];
for (let i = 0; i < axisDays; i++) categories.push(new Date(t0 + i * DAY).toISOString().slice(0, 10));
const candles = closeK.map((c, i) => {
  const o = i === 0 ? prevCloseK : closeK[i - 1];
  return [o * K, c * K, lowK[i] * K, highK[i] * K];
});
const emaData = maDates.map((d, i) => [d, emaK[i] * K]);
const smaData = maDates.map((d, i) => [d, smaK[i] * K]);

function fmt(v) {
  const s = Math.abs(v).toFixed(2).split('.');
  return (v < 0 ? '\u2212' : '') + s[0].replace(/\B(?=(\d{3})+(?!\d))/g, ',') + '.' + s[1];
}
function isMark(v) {
  const m = v.slice(5, 7), d = v.slice(8, 10);
  return d === '01' && (m === '01' || timeLabels[m] !== undefined);
}
const yMin = 3500, yMax = 81500, yStep = 500;
const gridColors = [];
for (let v = yMin; v <= yMax; v += yStep) gridColors.push(priceTicks.indexOf(v) >= 0 ? GRID : 'rgba(0,0,0,0)');

const chart = echarts.init(document.getElementById('c'), null, {renderer: 'canvas', width: 1713, height: 717});
chart.setOption({
  animation: false,
  backgroundColor: '#ffffff',
  textStyle: {fontFamily: FONT},
  grid: {left: 12.5, top: 34, width: 1601, height: 608.4, containLabel: false, outerBoundsMode: 'none'},
  xAxis: {
    type: 'category', data: categories, boundaryGap: true,
    axisLine: {show: false}, axisTick: {show: false},
    axisLabel: {
      interval: (i, v) => isMark(v), margin: 7, color: TXT, fontSize: 15, fontFamily: FONT,
      formatter: v => { const m = v.slice(5, 7); return m === '01' ? '{b|' + v.slice(0, 4) + '}' : timeLabels[m]; },
      rich: {b: {fontWeight: 'bold', fontSize: 15, color: TXT, fontFamily: FONT}}
    },
    splitLine: {show: true, interval: (i, v) => isMark(v), lineStyle: {color: GRID, width: 1}}
  },
  yAxis: {
    type: 'value', position: 'right', min: yMin, max: yMax, interval: yStep,
    axisLine: {show: false}, axisTick: {show: false},
    axisLabel: {margin: 10.5, color: TXT, fontSize: 17, fontFamily: FONT, align: 'left',
      formatter: v => priceTicks.indexOf(v) >= 0 ? fmt(v) : ''},
    splitLine: {show: true, lineStyle: {color: gridColors, width: 1}}
  },
  series: [
    {
      type: 'candlestick', data: candles, large: false, progressive: 0, barWidth: 1, z: 2,
      itemStyle: {color: UP, color0: DOWN, borderColor: UP, borderColor0: DOWN, borderWidth: 1},
      markLine: {
        silent: true, symbol: ['none', 'none'], label: {show: false}, animation: false,
        lineStyle: {color: DOWN, width: 1, type: [1, 2]},
        data: [{yAxis: closeK[closeK.length - 1] * K}]
      }
    },
    {type: 'line', data: emaData, showSymbol: false, smooth: 0.3, z: 3,
      lineStyle: {color: DOWN, width: 1.6, opacity: 0.9}},
    {type: 'line', data: smaData, showSymbol: false, smooth: 0.3, z: 3,
      lineStyle: {color: BLUE, width: 1.6, opacity: 0.9}}
  ]
});

// ---------- overlay: frame, header, legend, price tags, logo ----------
const n = closeK.length;
const lastO = closeK[n - 2] * K, lastC = closeK[n - 1] * K, lastH = highK[n - 1] * K, lastL = lowK[n - 1] * K;
const chg = lastC - lastO, pct = chg / lastO * 100;
const emaLast = emaK[emaK.length - 1] * K, smaLast = smaK[smaK.length - 1] * K;
const yOf = v => chart.convertToPixel({yAxisIndex: 0}, v);
const yPrice = yOf(lastC), yEma = yOf(emaLast);
const ySma = Math.max(yOf(smaLast), yEma + 21.5);
const fLeg = '14.8px ' + FONT;
const fTag = '17px ' + FONT;

function tag(y, color, text) {
  return [
    {type: 'rect', z: 100, silent: true, shape: {x: 1613.5, y: y - 10.5, width: 97, height: 21, r: [0, 2, 2, 0]}, style: {fill: color}},
    {type: 'text', z: 101, silent: true, x: 1624, y: y + 0.5, style: {text: text, fill: '#ffffff', font: fTag, verticalAlign: 'middle', align: 'left'}}
  ];
}
const line1 = '{d|' + symbolText + '}  {d|O}{r|' + fmt(lastO) + '}  {d|H}{r|' + fmt(lastH) + '}  {d|L}{r|' + fmt(lastL) +
  '}  {d|C}{r|' + fmt(lastC) + '}  {r|' + fmt(chg) + ' (' + (pct < 0 ? '\u2212' : '') + Math.abs(pct).toFixed(2) + '%)}';
const graphics = [
  {type: 'rect', z: 90, silent: true, shape: {x: 12.5, y: 33, width: 1698.5, height: 636}, style: {fill: 'none', stroke: '#e6e8ef', lineWidth: 2}},
  {type: 'text', z: 100, silent: true, x: 13, y: 20.7, style: {text: headerText, fill: TXT, font: '16px ' + FONT, verticalAlign: 'middle'}},
  {type: 'text', z: 100, silent: true, x: 24, y: 53.3, style: {text: line1, font: fLeg, fill: TXT, verticalAlign: 'middle',
    rich: {d: {fill: TXT, font: fLeg}, r: {fill: DOWN, font: fLeg}}}},
  {type: 'text', z: 100, silent: true, x: 24, y: 75, scaleX: 0.96, originX: 0, style: {text: emaName, fill: TXT, font: fLeg, verticalAlign: 'middle'}},
  {type: 'text', z: 100, silent: true, x: 142.5, y: 75, style: {text: fmt(emaLast), fill: DOWN, font: fLeg, verticalAlign: 'middle'}},
  {type: 'text', z: 100, silent: true, x: 24, y: 95.7, scaleX: 0.96, originX: 0, style: {text: smaName, fill: TXT, font: fLeg, verticalAlign: 'middle'}},
  {type: 'text', z: 100, silent: true, x: 142.5, y: 95.7, style: {text: fmt(smaLast), fill: BLUE, font: fLeg, verticalAlign: 'middle'}},
  // TradingView logo
  {type: 'polygon', z: 100, silent: true, shape: {points: [[13, 688.5], [22.5, 688.5], [22.5, 701.5], [17.8, 701.5], [17.8, 693], [13, 693]]}, style: {fill: TXT}},
  {type: 'circle', z: 100, silent: true, shape: {cx: 25.8, cy: 690.8, r: 2.3}, style: {fill: TXT}},
  {type: 'polygon', z: 100, silent: true, shape: {points: [[29.3, 688.5], [34.5, 688.5], [28.8, 701.5], [23.6, 701.5]]}, style: {fill: TXT}},
  {type: 'text', z: 100, silent: true, x: 37, y: 695.5, style: {text: 'TradingView', fill: TXT, font: '17px ' + FONT, verticalAlign: 'middle'}}
].concat(tag(yPrice, DOWN, fmt(lastC)), tag(yEma, DOWN, fmt(emaLast)), tag(ySma, BLUE, fmt(smaLast)));
chart.setOption({graphic: graphics});
</script>
</body>
</html>
